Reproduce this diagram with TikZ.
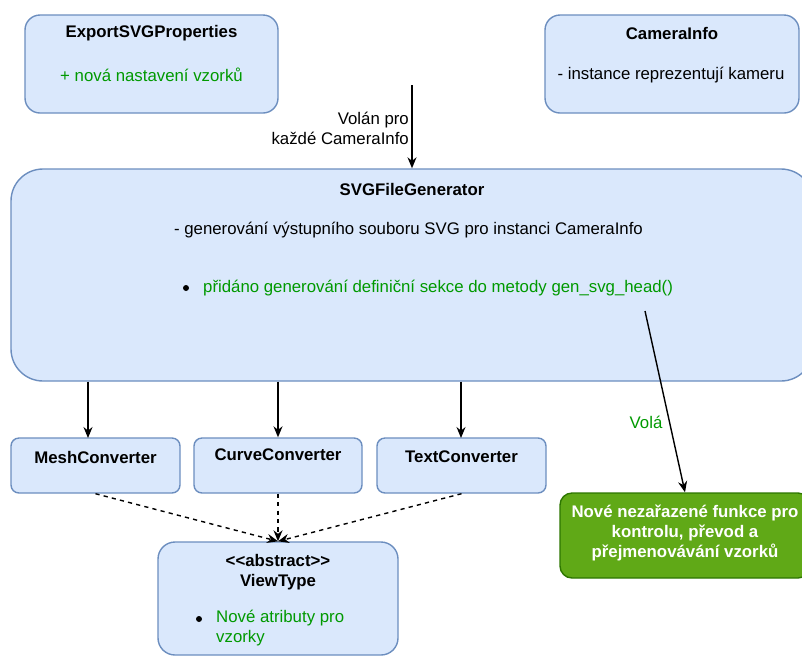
\documentclass[tikz,border=0pt]{standalone}
\usepackage{fontspec}
\setmainfont{Liberation Sans}
\usetikzlibrary{arrows.meta,calc}

\definecolor{boxfill}{HTML}{DAE8FC}
\definecolor{boxline}{HTML}{6C8EBF}
\definecolor{newtext}{HTML}{009900}
\definecolor{fnfill}{HTML}{60A917}
\definecolor{fnline}{HTML}{2D7600}

\tikzset{
  every node/.style={font=\fontsize{16.8}{20.16}\selectfont, inner sep=0pt},
  classbox/.style={draw=boxline, fill=boxfill, line width=1.4pt, rectangle,
                   minimum width=#1},
  fnbox/.style={draw=fnline, fill=fnfill, line width=1.4pt, rectangle},
  title/.style={font=\fontsize{16.8}{20.16}\selectfont\bfseries},
  added/.style={text=newtext},
  callarrow/.style={line width=1.4pt, -{Stealth[length=11pt,width=9pt]}},
  usearrow/.style={line width=1.4pt, dash pattern=on 4.2pt off 4.2pt,
                   -{Stealth[length=11pt,width=9pt]}},
}

\begin{document}
\begin{tikzpicture}[x=1pt,y=-1pt]
  \useasboundingbox (0,0) rectangle (802,657);
  \clip (0,0) rectangle (802,657);

  % class boxes
  \node[classbox=253pt, minimum height=98pt, rounded corners=15pt] (export) at (151.5,64) {};
  \node[classbox=254pt, minimum height=98pt, rounded corners=15pt] (camera) at (672,64) {};
  \node[classbox=802pt, minimum height=212pt, rounded corners=32pt] (gen) at (412,275) {};
  \node[classbox=169pt, minimum height=55pt, rounded corners=8pt] (mesh) at (95.5,465.5) {};
  \node[classbox=168pt, minimum height=55pt, rounded corners=8pt] (curve) at (278,465.5) {};
  \node[classbox=169pt, minimum height=55pt, rounded corners=8pt] (textc) at (461.5,465.5) {};
  \node[classbox=240pt, minimum height=113pt, rounded corners=17pt] (view) at (278,598.5) {};
  \node[fnbox, minimum width=250pt, minimum height=85pt, rounded corners=12pt] (helpers) at (685,535.5) {};

  % box contents
  \node[title] (exportT) at (151.5,33) {ExportSVGProperties};
  \node[added] (exportA) at (151.5,75) {+ nová nastavení vzorků};

  \node[title] (cameraT) at (672,33) {CameraInfo};
  \node (cameraA) at (671,75) {- instance reprezentují kameru};

  \node[title] (genT) at (412,189) {SVGFileGenerator};
  \node (genA) at (408.5,230) {- generování výstupního souboru SVG pro instanci CameraInfo};
  \fill (186,288) circle (3pt);
  \node[added, anchor=west] (genB) at (203,288) {přidáno generování definiční sekce do metody gen\_svg\_head()};

  \node[title] (meshT) at (95.5,457) {MeshConverter};
  \node[title] (curveT) at (278,455) {CurveConverter};
  \node[title] (textT) at (461.5,457) {TextConverter};

  \node[title, align=center] (viewT) at (278,572) {<{}<abstract>{}>\\ViewType};
  \fill (199,619) circle (3pt);
  \node[added, anchor=north west, align=left] (viewA) at (216,610) {Nové atributy pro\\vzorky};

  \node[title, text=white, align=center] (helpersT) at (685,533)
    {Nové nezařazené funkce pro\\kontrolu, převod a\\přejmenovávání vzorků};

  % connectors
  \coordinate (callsrc) at (412,85);
  \draw[callarrow] (callsrc) -- (gen.north);
  \node[anchor=east, align=right] (callL) at (409,128) {Volán pro\\každé CameraInfo};

  \coordinate (meshin) at (88,438);
  \draw[callarrow] (gen.south -| meshin) -- (meshin);
  \draw[callarrow] (gen.south -| curve.north) -- (curve.north);
  \coordinate (textin) at (461,438);
  \draw[callarrow] (gen.south -| textin) -- (textin);

  \draw[usearrow] (mesh.south) -- (view.north);
  \draw[usearrow] (curve.south) -- (view.north);
  \draw[usearrow] (textc.south) -- (view.north);

  \coordinate (volasrc) at (645,311);
  \draw[callarrow] (volasrc) -- (helpers.north);
  \node[added] (volaL) at (646,422) {Volá};
\end{tikzpicture}
\end{document}
